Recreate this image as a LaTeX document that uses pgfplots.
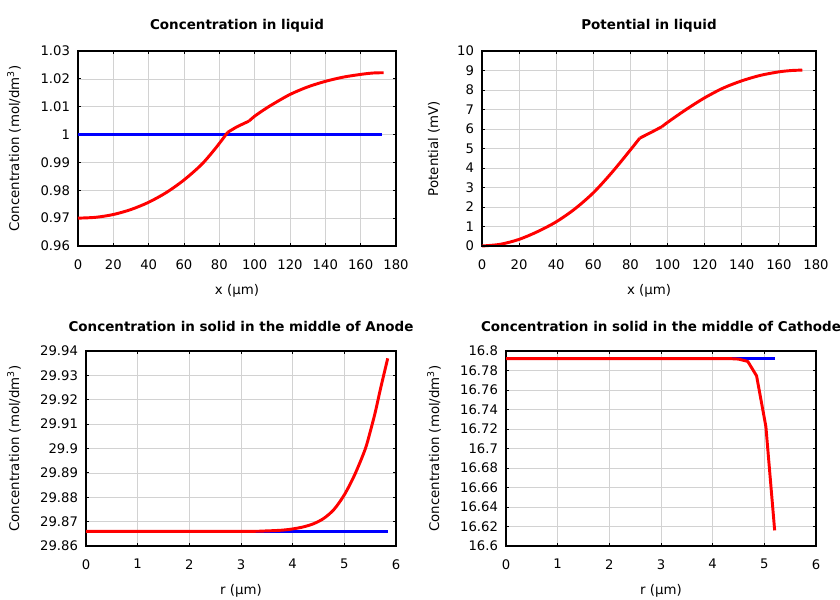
\documentclass[border=0pt]{standalone}
\usepackage{fontspec}
\setmainfont{DejaVu Sans}
\usepackage{pgfplots}
\pgfplotsset{compat=1.18}
\definecolor{gridgray}{RGB}{210,210,210}
\pgfplotsset{
  myax/.style={
    scale only axis, height=146.25pt, anchor=south west,
    axis line style={black, line width=0.8pt},
    grid=major, major grid style={gridgray, line width=0.5pt},
    tick align=inside, major tick length=2.5pt,
    tick style={black, line width=0.6pt},
    /pgf/number format/assume math mode=true,
    /pgf/number format/fixed,
    /pgf/number format/precision=3,
    tick label style={font=\fontsize{9.9}{11}\selectfont},
    label style={font=\fontsize{10}{12}\selectfont},
    xticklabel style={yshift=-6.5pt},
    yticklabel style={xshift=-2.5pt},
    title style={at={(0.5,1)}, anchor=center, yshift=12.75pt, font=\fontsize{10.1}{12}\selectfont\bfseries},
    xlabel style={at={(0.5,0)}, anchor=center, yshift=-33.5pt},
    clip=false,
  },
  rline/.style={red, line width=2.2pt, line join=round},
  bline/.style={blue, line width=2.2pt},
}
\begin{document}
\begin{tikzpicture}
\useasboundingbox (0,0) rectangle (630pt,450pt);
% Top left
\begin{axis}[myax, at={(58.5pt,265.5pt)}, width=238.5pt,
  title={Concentration in liquid},
  xmin=0, xmax=180, ymin=0.96, ymax=1.03,
  xtick={0,20,...,180}, ytick={0.96,0.97,0.98,0.99,1,1.01,1.02,1.03},
  xlabel={x (μm)}, ylabel={Concentration (mol/dm\textsuperscript{3})},
  ylabel style={at={(0,0.5)}, anchor=center, yshift=48pt}]
\addplot[bline] coordinates {(0,1) (172,1)};
\addplot[rline, smooth] coordinates {
(0,0.9700) (10,0.9703) (20,0.9713) (30,0.9731) (40,0.9757) (50,0.9792) (60,0.9837) (70,0.9893) (78,0.9952) (84.7,1.0008)};
\addplot[rline, smooth, tension=0.3] coordinates {
(84.7,1.0008) (90,1.0028) (96.7,1.0048)};
\addplot[rline, smooth] coordinates {
(96.7,1.0048) (100,1.0066) (105,1.0088) (110,1.0108) (120,1.0144) (130,1.0171) (140,1.0191) (150,1.0206) (160,1.0216) (167,1.0221) (173,1.0222)};
\end{axis}
% Top right
\begin{axis}[myax, at={(361.5pt,265.5pt)}, width=250.5pt,
  title={Potential in liquid},
  xmin=0, xmax=180, ymin=0, ymax=10,
  xtick={0,20,...,180}, ytick={0,1,...,10},
  xlabel={x (μm)}, ylabel={Potential (mV)},
  ylabel style={at={(0,0.5)}, anchor=center, yshift=36pt}]
\addplot[rline, smooth] coordinates {
(0,0) (10,0.09) (20,0.34) (30,0.74) (40,1.24) (50,1.9) (60,2.73) (70,3.77) (80,4.93) (85,5.53)};
\addplot[rline, smooth, tension=0.3] coordinates {
(85,5.53) (91,5.82) (97,6.12)};
\addplot[rline, smooth] coordinates {
(97,6.12) (100,6.34) (110,7.0) (120,7.6) (130,8.1) (140,8.47) (150,8.75) (160,8.93) (167,9.0) (172.6,9.02)};
\addplot[color={rgb,255:red,0;green,0;blue,150}, line width=2.2pt] coordinates {(0,0) (172.6,0)};
\draw[black, line width=0.8pt] (rel axis cs:0,0) -- (rel axis cs:1,0);
\end{axis}
% Bottom left
\begin{axis}[myax, at={(64.5pt,40.5pt)}, width=232.5pt,
  title={Concentration in solid in the middle of Anode},
  xmin=0, xmax=6, ymin=29.86, ymax=29.94,
  xtick={0,1,...,6}, ytick={29.86,29.87,29.88,29.89,29.9,29.91,29.92,29.93,29.94},
  xlabel={r (μm)}, ylabel={Concentration (mol/dm\textsuperscript{3})},
  ylabel style={at={(0,0.5)}, anchor=center, yshift=54pt}]
\addplot[bline] coordinates {(0,29.866) (5.84,29.866)};
\addplot[rline, smooth] coordinates {
(0,29.866) (3,29.866) (3.5,29.8662) (3.8,29.8665) (4.0,29.8670) (4.2,29.8678) (4.4,29.8691) (4.6,29.8713) (4.8,29.8750) (5.0,29.8810) (5.2,29.8892) (5.4,29.8995) (5.5,29.9068) (5.6,29.9150) (5.7,29.9245) (5.84,29.9370)};
\end{axis}
% Bottom right
\begin{axis}[myax, at={(379.5pt,40.5pt)}, width=232.5pt,
  title={Concentration in solid in the middle of Cathode},
  xmin=0, xmax=6, ymin=16.6, ymax=16.8,
  xtick={0,1,...,6}, ytick={16.6,16.62,16.64,16.66,16.68,16.7,16.72,16.74,16.76,16.78,16.8},
  xlabel={r (μm)}, ylabel={Concentration (mol/dm\textsuperscript{3})},
  ylabel style={at={(0,0.5)}, anchor=center, yshift=54pt}]
\addplot[bline] coordinates {(0,16.7921) (5.21,16.7921)};
\addplot[rline] coordinates {
(0,16.7921) (4.16,16.7921) (4.33,16.7922) (4.5,16.7917) (4.68,16.7893) (4.85,16.7745) (5.03,16.7225) (5.2,16.616)};
\end{axis}
\end{tikzpicture}
\end{document}
